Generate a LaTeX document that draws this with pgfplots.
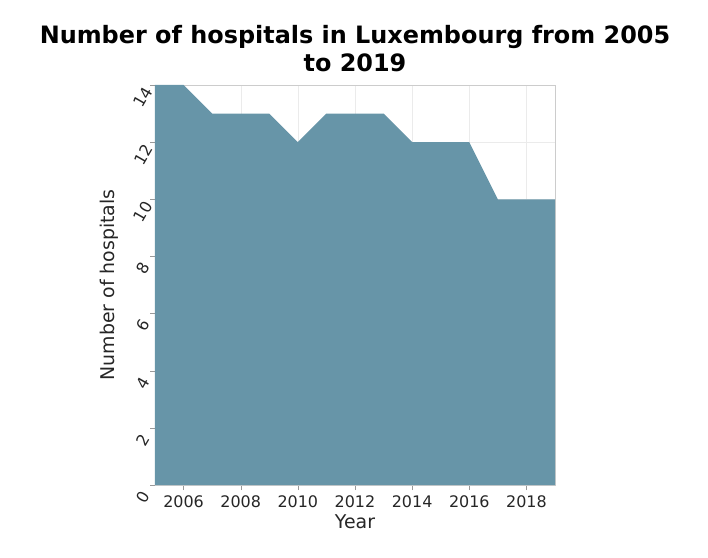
\documentclass[border=0pt]{standalone}
\usepackage{pgfplots}
\pgfplotsset{compat=1.18}
\usepackage{fontspec}
\setmainfont{DejaVu Sans}
\definecolor{area}{HTML}{6795A8}
\begin{document}
\begin{tikzpicture}
\begin{axis}[
  at={(0,0)}, anchor=south west,
  scale only axis, width=400bp, height=400bp,
  xmin=2005, xmax=2019, ymin=0, ymax=14,
  xtick={2006,2008,...,2018}, ytick={0,2,...,14},
  /pgf/number format/1000 sep={},
  /pgf/number format/assume math mode=true,
  tick label style={font=\fontsize{16}{18}\selectfont, color=black!85},
  yticklabel style={rotate=60, anchor=center, xshift=-14bp},
  xticklabel style={yshift=-2bp},
  grid=major, grid style={color=black!8},
  axis line style={color=black!20},
  tick style={color=black!40},
  major tick length=5bp,
  tick align=outside, xtick pos=bottom, ytick pos=left,
  xlabel={Year}, ylabel={Number of hospitals},
  label style={font=\fontsize{19}{22}\selectfont, color=black!85},
  ylabel style={yshift=6bp},
  title={\textbf{Number of hospitals in Luxembourg from 2005}\\\textbf{to 2019}},
  title style={font=\fontsize{24}{28}\selectfont, align=center, yshift=4bp},
]
\addplot[fill=area, draw=none] coordinates {
(2005,14) (2006,14) (2007,13) (2008,13) (2009,13) (2010,12) (2011,13) (2012,13)
(2013,13) (2014,12) (2015,12) (2016,12) (2017,10) (2018,10) (2019,10)
} \closedcycle;
\end{axis}
\useasboundingbox (-155bp,-73bp) rectangle (553bp,485bp);
\end{tikzpicture}
\end{document}
